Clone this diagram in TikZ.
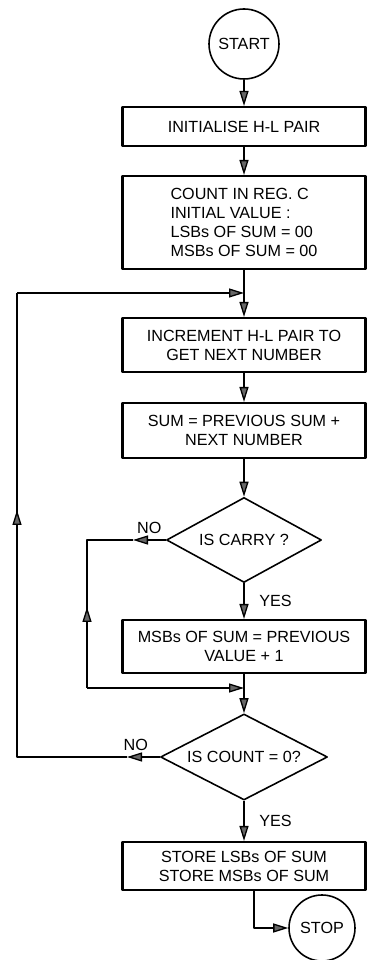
\documentclass[tikz,border=0pt]{standalone}
\usepackage{fontspec}
\setmainfont{Liberation Sans}
\usetikzlibrary{arrows.meta,shapes.geometric}

\begin{document}
\begin{tikzpicture}[>={Triangle[length=0.30cm,width=0.18cm,fill=black!60]},line join=round,
  font=\fontsize{9.2}{10.8}\selectfont,
  box/.style={draw,line width=1.2pt,minimum width=4.86cm,inner sep=0pt,align=center},
  term/.style={draw,circle,line width=0.9pt,inner sep=0pt},
  test/.style={draw,diamond,aspect=2,line width=0.9pt,inner sep=0pt},
  flow/.style={->,line width=0.75pt}]
  \useasboundingbox (0,0) rectangle (7.34,19.2);
  \node[term,minimum size=1.40cm] (start) at (4.88,18.32) {START};
  \node[box,minimum height=0.78cm] (init) at (4.88,16.67) {INITIALISE H-L PAIR};
  \node[box,minimum height=1.86cm,align=left] (count) at (4.88,14.75) {COUNT IN REG. C\\INITIAL VALUE :\\LSBs OF SUM = 00\\MSBs OF SUM = 00};
  \coordinate (jn) at (4.88,13.34);
  \node[box,minimum height=1.08cm] (incr) at (4.88,12.30) {INCREMENT H-L PAIR TO\\GET NEXT NUMBER};
  \node[box,minimum height=1.10cm] (sum) at (4.88,10.59) {SUM = PREVIOUS SUM +\\NEXT NUMBER};
  \node[test,minimum width=3.10cm,minimum height=1.70cm] (carry) at (4.88,8.40) {IS CARRY ?};
  \node[box,minimum height=1.06cm] (msb) at (4.88,6.27) {MSBs OF SUM = PREVIOUS\\VALUE + 1};
  \coordinate (mg) at (4.88,5.44);
  \node[test,minimum width=3.34cm,minimum height=1.72cm] (zero) at (4.88,4.06) {IS COUNT = 0?};
  \node[box,minimum height=0.96cm] (store) at (4.88,1.88) {STORE LSBs OF SUM\\STORE MSBs OF SUM};
  \node[term,minimum size=1.32cm] (stop) at (6.44,0.64) {STOP};
  \coordinate (sp) at (5.08,1.40);
  \coordinate (noC) at (2.66,8.40);
  \coordinate (cA) at (1.74,8.40);
  \coordinate (cB) at (1.74,5.44);
  \coordinate (upC) at (1.74,7.06);
  \coordinate (noZ) at (2.54,4.06);
  \coordinate (zA) at (0.34,4.06);
  \coordinate (zB) at (0.34,13.34);
  \coordinate (upZ) at (0.34,9.00);
  \draw[flow] (start) -- (init);
  \draw[flow] (init) -- (count);
  \draw[flow] (count) -- (incr);
  \draw[flow] (incr) -- (sum);
  \draw[flow] (sum) -- (carry);
  \draw[flow] (carry) -- node[right=5pt]{YES} (msb);
  \draw[flow] (msb) -- (zero);
  \draw[flow] (zero) -- node[right=5pt]{YES} (store);
  \draw[flow] (sp) |- (stop);
  \draw[flow] (carry) -- node[above]{NO} (noC);
  \draw[line width=0.75pt] (noC) -- (cA) -- (cB);
  \draw[flow] (cB) -- (upC);
  \draw[flow] (cB) -- (mg);
  \draw[flow] (zero) -- node[above,pos=0.73]{NO} (noZ);
  \draw[line width=0.75pt] (noZ) -- (zA) -- (zB);
  \draw[flow] (zA) -- (upZ);
  \draw[flow] (zB) -- (jn);
\end{tikzpicture}
\end{document}
